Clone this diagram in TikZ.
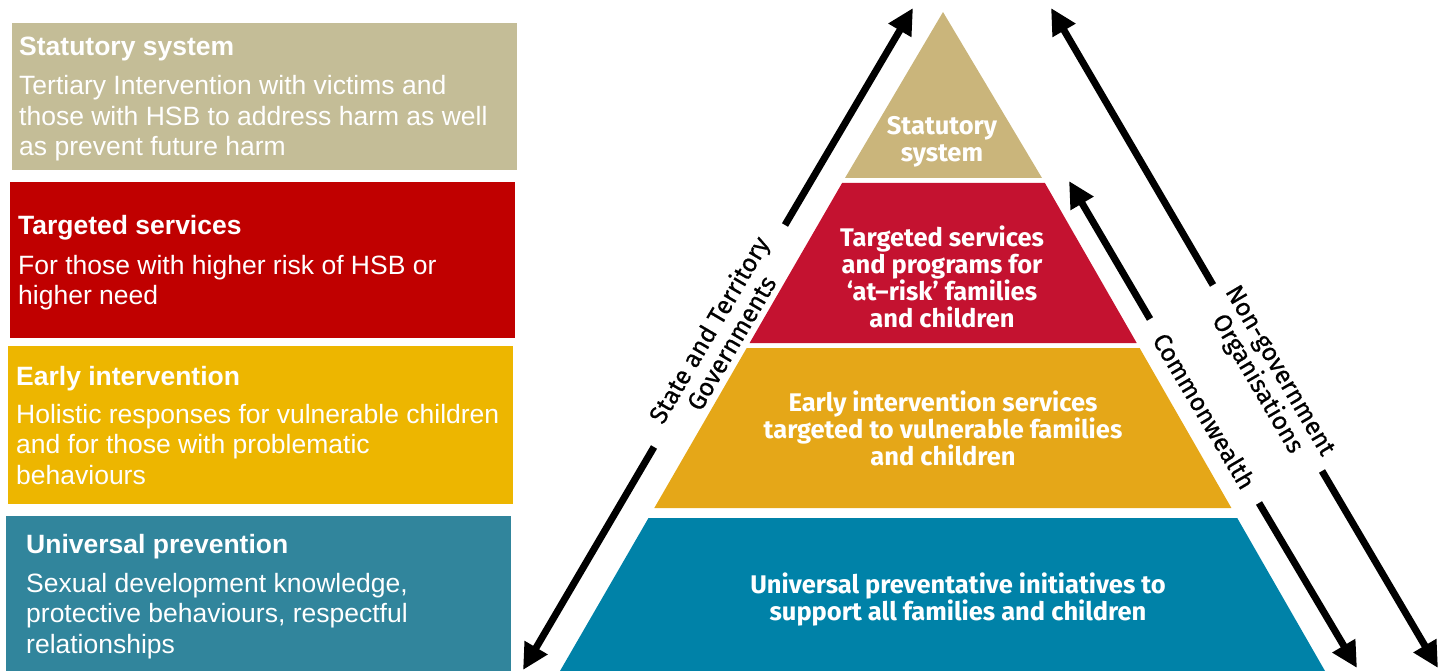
\documentclass[tikz,border=0pt]{standalone}
\usepackage{fontspec}
\setmainfont{Liberation Sans}
\newfontfamily\pyrfont{Fira Sans}
\newfontfamily\armfont[FakeBold=0.6]{Fira Sans}
\usetikzlibrary{arrows.meta,calc}
\definecolor{boxtan}{RGB}{196,189,151}
\definecolor{boxred}{RGB}{192,0,0}
\definecolor{boxyel}{RGB}{237,182,0}
\definecolor{boxteal}{RGB}{49,133,156}
\definecolor{pyrtan}{RGB}{202,181,123}
\definecolor{pyrred}{RGB}{196,18,48}
\definecolor{pyryel}{RGB}{229,167,24}
\definecolor{pyrblue}{RGB}{0,130,168}
\begin{document}
\begin{tikzpicture}[x=1pt,y=-1pt,
  panel/.style={anchor=north west, inner sep=0pt, outer sep=0pt},
  boxtitle/.style={anchor=base west, inner sep=0pt, text=white, font=\fontsize{26.5}{30.5}\selectfont\bfseries},
  boxbody/.style={anchor=base west, inner sep=0pt, text=white, align=left, font=\fontsize{26.5}{30.5}\selectfont},
  pyrtext/.style={inner sep=0pt, text=white, align=center, font=\pyrfont\bfseries\fontsize{25.5}{27}\selectfont},
  armlabel/.style={inner sep=0pt, text=black, align=center, font=\armfont\fontsize{25}{26}\selectfont},
  govarrow/.style={line width=7pt, -{Triangle[length=26pt,width=25pt]}}
]
\useasboundingbox (0,0) rectangle (1451,671);
% ---------- left panels ----------
\node[panel, fill=boxtan, minimum width=505pt, minimum height=147pt] (p1) at (12,23) {};
\node[panel, fill=boxred, minimum width=505pt, minimum height=156pt] (p2) at (10,182) {};
\node[panel, fill=boxyel, minimum width=505pt, minimum height=158pt] (p3) at (8,346) {};
\node[panel, fill=boxteal, minimum width=505pt, minimum height=155pt] (p4) at (6,516) {};
% body nodes: base anchor sits on the last line's baseline
\node[boxtitle] (t1) at (19,56) {Statutory system};
\node[boxbody] (d1) at (19,156) {Tertiary Intervention with victims and\\those with HSB to address harm as well\\as prevent future harm};
\node[boxtitle] (t2) at (18,235) {Targeted services};
\node[boxbody] (d2) at (18,304.5) {For those with higher risk of HSB or\\higher need};
\node[boxtitle] (t3) at (16,385) {Early intervention};
\node[boxbody] (d3) at (16,484) {Holistic responses for vulnerable children\\and for those with problematic\\behaviours};
\node[boxtitle] (t4) at (26,553) {Universal prevention};
\node[boxbody] (d4) at (26,653) {Sexual development knowledge,\\protective behaviours, respectful\\relationships};
% ---------- pyramid ----------
\fill[pyrtan] (943,12) -- (1042,178) -- (845,178) -- cycle;
\fill[pyrred] (842.1,183) -- (1044.9,183) -- (1136.7,343) -- (749.6,343) -- cycle;
\fill[pyryel] (746.7,348) -- (1139.6,348) -- (1231.4,508) -- (654.3,508) -- cycle;
\fill[pyrblue] (648.5,518) -- (1237.2,518) -- (1325,671) -- (560,671) -- cycle;
\node[pyrtext] (s1) at (942,142) {Statutory\\system};
\node[pyrtext] (s2) at (942,276.5) {Targeted services\\and programs for\\‘at–risk’ families\\and children};
\node[pyrtext] (s3) at (943,428.5) {Early intervention services\\targeted to vulnerable families\\and children};
\node[pyrtext] (s4) at (958,599) {Universal preventative initiatives to\\support all families and children};
% ---------- arrows ----------
\coordinate (stTop) at (913,8);
\coordinate (stBot) at (523,670);
\coordinate (stGapA) at (785,225);
\coordinate (stGapB) at (654,447);
\node[armlabel, rotate=59.5] (stLab) at ($(stGapA)!0.5!(stGapB)$) {State and Territory\\Governments};
\draw[govarrow] (stGapA) -- (stTop);
\draw[govarrow] (stGapB) -- (stBot);
\coordinate (cwTop) at (1069,181);
\coordinate (cwBot) at (1357,668);
\coordinate (cwGapA) at (1150,319);
\coordinate (cwGapB) at (1259,503);
\node[armlabel, rotate=-59.4] (cwLab) at ($(cwGapA)!0.5!(cwGapB)$) {Commonwealth};
\draw[govarrow] (cwGapA) -- (cwTop);
\draw[govarrow] (cwGapB) -- (cwBot);
\coordinate (ngTop) at (1051,8);
\coordinate (ngBot) at (1438,668);
\coordinate (ngGapA) at (1213,285);
\coordinate (ngGapB) at (1322,471);
\node[armlabel, rotate=-59.6] (ngLab) at ($(ngGapA)!0.5!(ngGapB)$) {Non-government\\Organisations};
\draw[govarrow] (ngGapA) -- (ngTop);
\draw[govarrow] (ngGapB) -- (ngBot);
\end{tikzpicture}
\end{document}
